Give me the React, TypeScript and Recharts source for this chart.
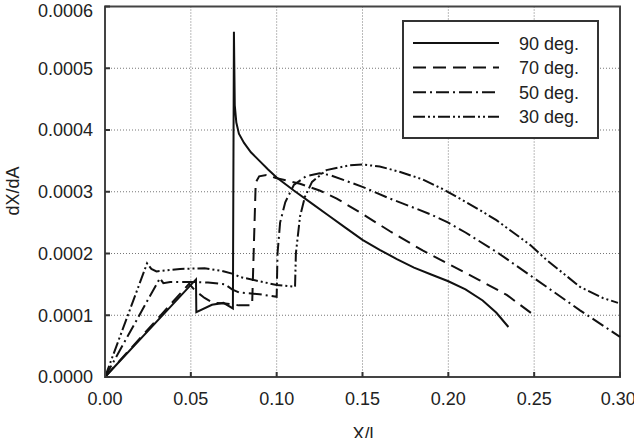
import React from 'react';
import { LineChart, Line, XAxis, YAxis, CartesianGrid, ReferenceArea } from 'recharts';

const xTicks = [0, 0.05, 0.1, 0.15, 0.2, 0.25, 0.3];
const yTicks = [0, 0.0001, 0.0002, 0.0003, 0.0004, 0.0005, 0.0006];

const deg90: [number, number][] = [
  [0, 0], [0.053, 0.000158], [0.0532, 0.000105], [0.0623, 0.000117], [0.069, 0.00012],
  [0.0745, 0.000111], [0.0751, 0.000559], [0.0756, 0.00044], [0.0765, 0.000412],
  [0.078, 0.000394], [0.081, 0.000379], [0.085, 0.000364], [0.09, 0.00035], [0.095, 0.000336],
  [0.1, 0.000323], [0.11, 0.000302], [0.12, 0.000282], [0.13, 0.000262], [0.14, 0.000242],
  [0.15, 0.000222], [0.16, 0.000206], [0.17, 0.000191], [0.18, 0.000177], [0.19, 0.000166],
  [0.2, 0.000155], [0.21, 0.000142], [0.22, 0.000124], [0.228, 0.000104], [0.235, 0.000081],
];

const deg70: [number, number][] = [
  [0, 0], [0.049, 0.000151], [0.0525, 0.00014], [0.058, 0.000128], [0.063, 0.00012],
  [0.07, 0.000119], [0.078, 0.000116], [0.0857, 0.000116], [0.0868, 0.00022], [0.0878, 0.000315],
  [0.0898, 0.000325], [0.094, 0.000327], [0.1, 0.000322], [0.1136, 0.000313], [0.125, 0.000302],
  [0.135, 0.000289], [0.15, 0.000264], [0.166, 0.000236], [0.185, 0.000205], [0.2, 0.000183],
  [0.218, 0.000157], [0.234, 0.000133], [0.25, 0.0001],
];

const deg50: [number, number][] = [
  [0, 0], [0.032, 0.00016], [0.034, 0.000152], [0.038, 0.000154], [0.05, 0.000154],
  [0.06, 0.000153], [0.07, 0.00015], [0.074, 0.000142], [0.078, 0.000137], [0.09, 0.000134],
  [0.1, 0.00013], [0.1005, 0.0002], [0.102, 0.00025], [0.105, 0.000283], [0.11, 0.000311],
  [0.117, 0.000325], [0.125, 0.00033], [0.131, 0.000327], [0.14, 0.000318], [0.15, 0.000308],
  [0.165, 0.00029], [0.18, 0.000274], [0.19, 0.000263], [0.2, 0.00025], [0.21, 0.000234],
  [0.2284, 0.000202], [0.249, 0.000162], [0.2767, 0.000108], [0.3, 0.000065],
];

const deg30: [number, number][] = [
  [0, 0], [0.0245, 0.000184], [0.027, 0.000175], [0.03, 0.000171], [0.0437, 0.000175],
  [0.058, 0.000176], [0.068, 0.000172], [0.0746, 0.000167], [0.0786, 0.000162], [0.09, 0.000155],
  [0.1, 0.000149], [0.1107, 0.000146], [0.1112, 0.0002], [0.1136, 0.00026], [0.1165, 0.000292],
  [0.1206, 0.000316], [0.129, 0.000335], [0.1427, 0.000343], [0.15, 0.000344], [0.16, 0.000341],
  [0.172, 0.000332], [0.185, 0.00032], [0.197, 0.000304], [0.2085, 0.000286], [0.2185, 0.00027],
  [0.228, 0.000254], [0.2476, 0.000214], [0.2575, 0.000189], [0.2767, 0.000146], [0.29, 0.000128],
  [0.2988, 0.00012],
];

const seriesNames = ['90 deg.', '70 deg.', '50 deg.', '30 deg.'];
const seriesData = [deg90, deg70, deg50, deg30];
const seriesDash = ['', '13 7', '13 4 2 4', '12 3 2 3 2 3'];

const FONT = '"Liberation Sans", Arial, Helvetica, sans-serif';
const INK = '#111';

const toPts = (arr: [number, number][]) => arr.map(([x, y]) => ({ x, y }));

const YLabel = () => (
  <text x={18.5} y={191} transform="rotate(-90 18.5 191)" textAnchor="middle"
    fontFamily={FONT} fontSize={18} fill="#222">dX/dA</text>
);

const XLabel = () => (
  <text x={363} y={440} textAnchor="middle" fontFamily={FONT} fontSize={18} fill="#222">X/l</text>
);

export default function App() {
  return (
    <div style={{ position: 'absolute', left: 0, top: 0, width: 634, height: 438, background: '#fff' }}>
      <LineChart width={634} height={438} margin={{ top: 6.5, right: 14, bottom: 0, left: 0 }}>
        <CartesianGrid stroke="#777" strokeDasharray="1 2" strokeWidth={1} />
        <XAxis
          type="number" dataKey="x" domain={[0, 0.3]} ticks={xTicks} height={61}
          tickFormatter={(v: number) => v.toFixed(2)}
          tick={{ fontSize: 18, fill: '#222', fontFamily: FONT }}
          tickSize={-5} tickMargin={20}
          tickLine={{ stroke: '#333', strokeWidth: 2 }}
          axisLine={{ stroke: '#444', strokeWidth: 2 }}
          allowDuplicatedCategory={false}
          label={XLabel}
        />
        <YAxis
          type="number" domain={[0, 0.0006]} ticks={yTicks} width={105}
          tickFormatter={(v: number) => v.toFixed(4)}
          tick={{ fontSize: 18, fill: '#222', fontFamily: FONT }}
          tickSize={-5} tickMargin={17}
          tickLine={{ stroke: '#333', strokeWidth: 2 }}
          axisLine={{ stroke: '#444', strokeWidth: 2 }}
          label={YLabel}
        />
        <ReferenceArea x1={0} x2={0.3} y1={0} y2={0.0006} fill="none" stroke="#444" strokeWidth={2} ifOverflow="visible" />
        {seriesData.map((d, i) => (
          <Line
            key={seriesNames[i]}
            data={toPts(d)}
            dataKey="y"
            name={seriesNames[i]}
            type="linear"
            stroke={INK}
            strokeWidth={2}
            strokeDasharray={seriesDash[i] || undefined}
            dot={false}
            activeDot={false}
            isAnimationActive={false}
          />
        ))}
      </LineChart>
      <svg width={197} height={119} style={{ position: 'absolute', left: 402, top: 20 }}>
        <rect x={1} y={1} width={195} height={117} fill="#fff" stroke="#333" strokeWidth={2} />
        {seriesNames.map((n, i) => (
          <g key={n}>
            <line x1={11} x2={97} y1={23 + i * 24.6} y2={23 + i * 24.6} stroke={INK} strokeWidth={2}
              strokeDasharray={seriesDash[i] || undefined} />
            <text x={117} y={23 + i * 24.6 + 6.5} fontFamily={FONT} fontSize={18} fill="#222">{n}</text>
          </g>
        ))}
      </svg>
    </div>
  );
}
